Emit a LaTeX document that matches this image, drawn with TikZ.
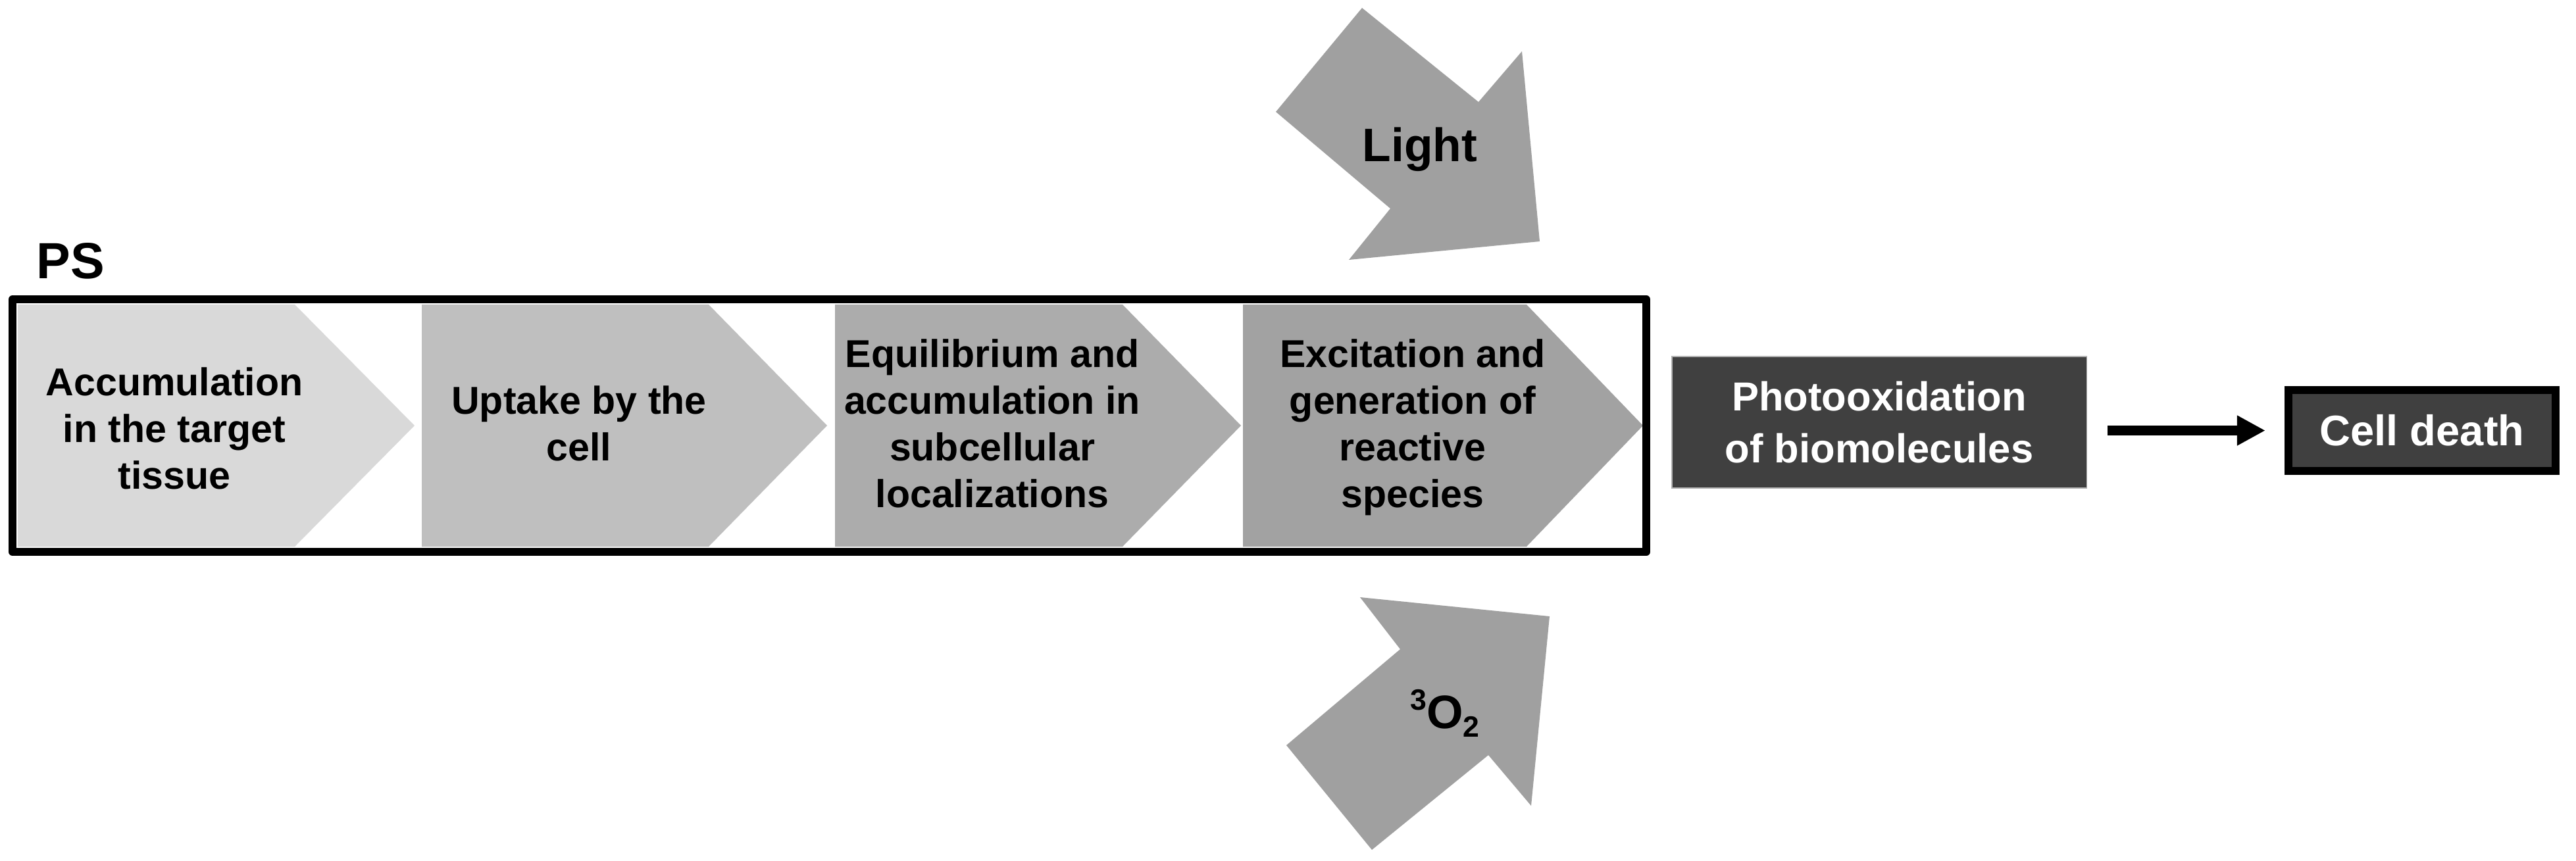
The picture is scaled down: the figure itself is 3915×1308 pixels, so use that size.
\documentclass[tikz,border=0pt]{standalone}
\usepackage{fontspec}
\setmainfont{Liberation Sans}
\usetikzlibrary{arrows.meta}
\definecolor{cA}{HTML}{D9D9D9}
\definecolor{cB}{HTML}{BFBFBF}
\definecolor{cC}{HTML}{ACACAC}
\definecolor{cD}{HTML}{A2A2A2}
\definecolor{cArr}{HTML}{A0A0A0}
\definecolor{cDark}{HTML}{404040}
\begin{document}
\begin{tikzpicture}[x=0.01cm,y=-0.01cm,
  steptext/.style={align=center,font=\bfseries\fontsize{16.8}{20.2}\selectfont,inner sep=0pt},
  stepshape/.style={draw=none},
  bigarrow/.style={fill=cArr,draw=none},
  arrlabel/.style={font=\bfseries\fontsize{20.3}{24}\selectfont,inner sep=0pt,anchor=base},
  darkbox/.style={fill=cDark,text=white,inner sep=0pt,align=center},
  frameline/.style={draw=black,line width=0.12cm,line join=round},
  flowarrow/.style={line width=0.15cm,-{Triangle[length=0.43cm,width=0.43cm]}}
]
\useasboundingbox[fill=white] (0,0) rectangle (3915,1308);

% step shapes
\fill[cA] (27,463) -- (448,463) -- (630,647) -- (448,831) -- (27,831) -- cycle;
\fill[cB] (641,463) -- (1077,463) -- (1257,647) -- (1077,831) -- (641,831) -- cycle;
\fill[cC] (1269,463) -- (1706,463) -- (1886,647) -- (1706,831) -- (1269,831) -- cycle;
\fill[cD] (1889,463) -- (2320,463) -- (2497,647) -- (2320,831) -- (1889,831) -- cycle;

% frame
\draw[frameline] (19,455) rectangle (2502,839);

% PS label
\node[font=\bfseries\fontsize{22}{26}\selectfont,anchor=base west,inner sep=0pt] (ps) at (55,423) {PS};

% step texts
\node[steptext] (s1) at (265,651) {Accumulation\\in the target\\tissue};
\node[steptext] (s2) at (880,644) {Uptake by the\\cell};
\node[steptext] (s3) at (1508,644) {Equilibrium and\\accumulation in\\subcellular\\localizations};
\node[steptext] (s4) at (2147,650) {Excitation and\\generation of\\reactive\\species};

% light arrow
\fill[cArr] (2070,12) -- (2247,155) -- (2313,78) -- (2340,367) -- (2050,395) -- (2113,317) -- (1939,170) -- cycle;
\node[arrlabel] (light) at (2158,245) {Light};

% oxygen arrow
\fill[cArr] (1955,1133) -- (2128,987) -- (2067,908) -- (2355,937) -- (2327,1225) -- (2262,1148) -- (2085,1292) -- cycle;
\node[arrlabel] (o2) at (2196,1107) {{\fontsize{12.7}{14}\selectfont\raisebox{7.7pt}{3}}O{\fontsize{12.7}{14}\selectfont\raisebox{-3.7pt}{2}}};

% result boxes
\node[darkbox,draw=gray!60,line width=0.4pt,minimum width=6.3cm,minimum height=2.0cm,
      font=\bfseries\fontsize{17.5}{22.5}\selectfont] (photo) at (2856,642) {Photooxidation\\of biomolecules};
\node[darkbox,draw=black,line width=0.12cm,minimum width=4.06cm,minimum height=1.23cm,
      font=\bfseries\fontsize{18.5}{22}\selectfont] (death) at (3681,654.5) {Cell death};

\draw[flowarrow,shorten <=0.31cm,shorten >=0.29cm] (photo.east |- death.west) -- (death.west);
\end{tikzpicture}
\end{document}
